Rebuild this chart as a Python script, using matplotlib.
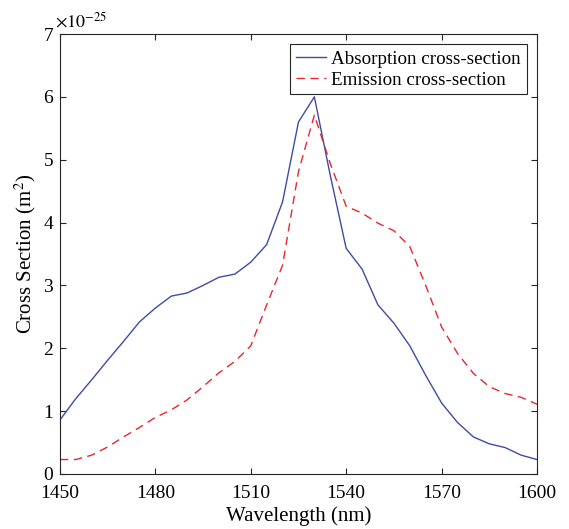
import numpy as np
import matplotlib.pyplot as plt

plt.rcParams['font.family'] = ['Liberation Serif', 'DejaVu Serif']
plt.rcParams['mathtext.fontset'] = 'stix'

# wavelength (nm) and cross sections (x 1e-25 m^2)
wl_abs = [1450, 1455, 1460, 1465, 1470, 1475, 1480, 1485, 1490, 1495, 1500,
          1505, 1510, 1515, 1520, 1525, 1530, 1535, 1540, 1545, 1550, 1555,
          1560, 1565, 1570, 1575, 1580, 1585, 1590, 1595, 1600]
absorption = [0.86, 1.20, 1.50, 1.81, 2.11, 2.42, 2.64, 2.83, 2.88, 3.00, 3.13,
              3.18, 3.37, 3.65, 4.33, 5.60, 6.00, 4.75, 3.59, 3.26, 2.69, 2.40,
              2.04, 1.57, 1.13, 0.82, 0.59, 0.48, 0.42, 0.30, 0.23]

wl_em = [1450, 1455, 1460, 1465, 1470, 1475, 1480, 1485, 1490, 1495, 1500,
         1505, 1510, 1515, 1520, 1525, 1530, 1535, 1540, 1545, 1550, 1555,
         1560, 1565, 1570, 1575, 1580, 1585, 1590, 1595, 1600]
emission = [0.23, 0.23, 0.30, 0.43, 0.59, 0.74, 0.90, 1.02, 1.18, 1.39, 1.61,
            1.79, 2.04, 2.69, 3.32, 4.81, 5.71, 4.94, 4.26, 4.15, 3.99, 3.87,
            3.62, 3.00, 2.34, 1.92, 1.60, 1.39, 1.28, 1.22, 1.11]

xticks = [1450, 1480, 1510, 1540, 1570, 1600]
yticks = [0, 1, 2, 3, 4, 5, 6, 7]

fig = plt.figure(figsize=(5.69, 5.29), dpi=100)
ax = fig.add_axes([0.1054, 0.104, 0.8383, 0.8317])

ax.plot(wl_abs, absorption, color='#3c4ca8', lw=1.0, label='Absorption cross-section')
ax.plot(wl_em, emission, color='#e8262e', lw=1.0, ls=(0, (6, 4)), label='Emission cross-section')

ax.set_xlim(1450, 1600)
ax.set_ylim(0, 7)
ax.set_xticks(xticks)
ax.set_yticks(yticks)
ax.tick_params(direction='in', top=True, right=True, labelsize=14, length=4,
               color='#262626')
ax.tick_params(axis='x', pad=8)
ax.tick_params(axis='y', pad=5)
for s in ax.spines.values():
    s.set_color('#262626')
    s.set_linewidth(0.8)

ax.set_xlabel('Wavelength (nm)', fontsize=15, labelpad=3)
ax.set_ylabel('Cross Section (m$^2$)', fontsize=15, labelpad=4)
ax.text(-0.01, 1.005, r'$\times10^{-25}$', transform=ax.transAxes, fontsize=13,
        ha='left', va='bottom')

leg = ax.legend(loc='upper right', fontsize=13.7, fancybox=False, framealpha=1,
                edgecolor='#262626', borderpad=0.3, handlelength=1.6,
                handletextpad=0.25, labelspacing=0.2, borderaxespad=0.55)
leg.get_frame().set_linewidth(0.8)

fig.savefig('out.png', dpi=100)
